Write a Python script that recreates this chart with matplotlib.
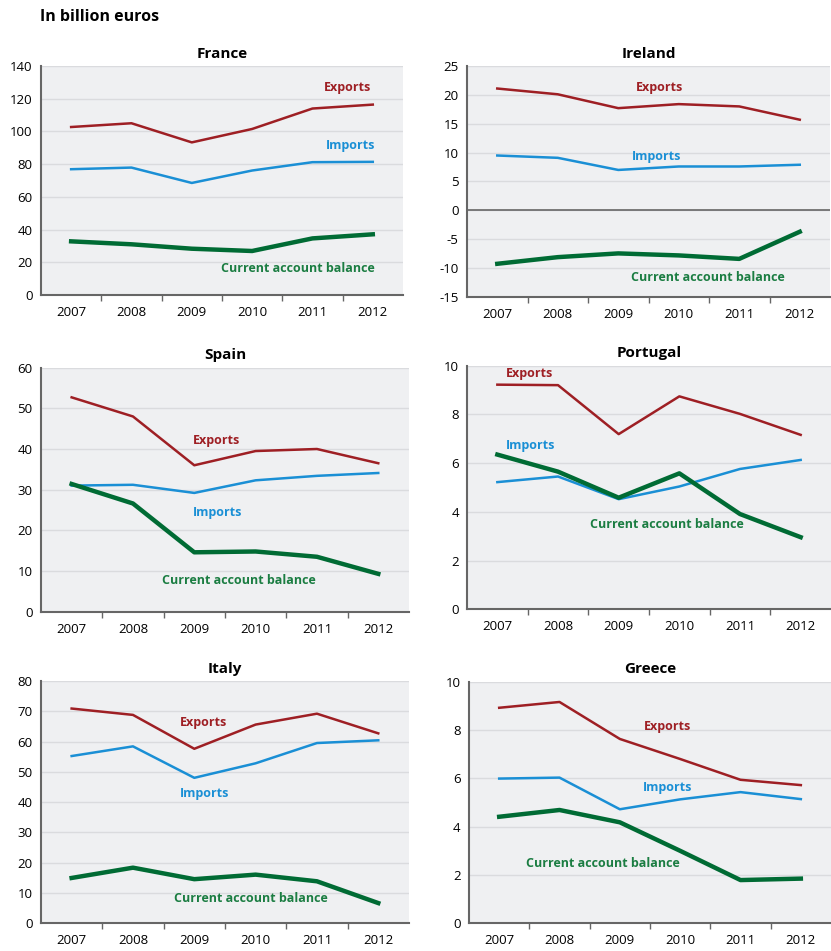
import matplotlib.pyplot as plt
import numpy as np

plt.rcParams['font.family'] = ['Open Sans', 'DejaVu Sans']

years = ['2007', '2008', '2009', '2010', '2011', '2012']

france_exp = [102.7, 105.0, 93.3, 101.5, 114.0, 116.4]
france_imp = [76.9, 77.9, 68.5, 76.1, 81.2, 81.4]
france_cab = [32.8, 31.0, 28.3, 26.9, 34.6, 37.1]

ireland_exp = [21.1, 20.1, 17.7, 18.4, 18.0, 15.7]
ireland_imp = [9.5, 9.1, 7.0, 7.6, 7.6, 7.9]
ireland_cab = [-9.25, -8.1, -7.45, -7.8, -8.4, -3.7]

spain_exp = [52.7, 48.0, 36.0, 39.5, 40.0, 36.5]
spain_imp = [31.0, 31.2, 29.2, 32.3, 33.4, 34.1]
spain_cab = [31.4, 26.6, 14.6, 14.8, 13.5, 9.3]

portugal_exp = [9.22, 9.2, 7.19, 8.74, 8.02, 7.16]
portugal_imp = [5.22, 5.45, 4.52, 5.04, 5.76, 6.13]
portugal_cab = [6.35, 5.65, 4.58, 5.58, 3.91, 2.96]

italy_exp = [70.9, 68.8, 57.6, 65.6, 69.2, 62.7]
italy_imp = [55.2, 58.4, 48.0, 52.8, 59.5, 60.4]
italy_cab = [14.9, 18.3, 14.5, 16.0, 13.8, 6.6]

greece_exp = [8.92, 9.16, 7.63, 6.8, 5.94, 5.72]
greece_imp = [5.99, 6.03, 4.72, 5.13, 5.43, 5.14]
greece_cab = [4.41, 4.69, 4.18, 3.0, 1.79, 1.85]

RED = '#9e1f24'
BLUE = '#1a8fd5'
GREEN = '#006b34'
GREEN_TXT = '#1b7d42'

# name, data, ylim, yticks, axes rect (l, b, w, h), label positions (axes fraction)
panels = [
    ('France', france_exp, france_imp, france_cab, (0, 140), np.arange(0, 141, 20),
     [0.0493, 0.6898, 0.4356, 0.2408], [(0.848, 0.904), (0.854, 0.651), (0.710, 0.114)]),
    ('Ireland', ireland_exp, ireland_imp, ireland_cab, (-15, 25), np.arange(-15, 26, 5),
     [0.5620, 0.6877, 0.4368, 0.2429], [(0.529, 0.906), (0.523, 0.610), (0.664, 0.084)]),
    ('Spain', spain_exp, spain_imp, spain_cab, (0, 60), np.arange(0, 61, 10),
     [0.0493, 0.3568, 0.4428, 0.2566], [(0.477, 0.701), (0.480, 0.406), (0.538, 0.129)]),
    ('Portugal', portugal_exp, portugal_imp, portugal_cab, (0, 10), np.arange(0, 11, 2),
     [0.5620, 0.3593, 0.4380, 0.2562], [(0.171, 0.969), (0.174, 0.672), (0.549, 0.349)]),
    ('Italy', italy_exp, italy_imp, italy_cab, (0, 80), np.arange(0, 81, 10),
     [0.0493, 0.0294, 0.4428, 0.2545], [(0.442, 0.829), (0.445, 0.534), (0.570, 0.100)]),
    ('Greece', greece_exp, greece_imp, greece_cab, (0, 10), np.arange(0, 11, 2),
     [0.5644, 0.0291, 0.4356, 0.2541], [(0.547, 0.814), (0.549, 0.563), (0.369, 0.248)]),
]

fig = plt.figure(figsize=(8.31, 9.51), dpi=100)
fig.text(0.048, 0.982, 'In billion euros', fontsize=11.5, fontweight='bold', va='center', ha='left')

x = np.arange(len(years))
for name, exp, imp, cab, ylim, yticks, rect, lpos in panels:
    ax = fig.add_axes(rect)
    ax.set_facecolor('#eff0f2')
    ax.set_xlim(-0.5, 5.5)
    ax.set_ylim(*ylim)
    ax.set_yticks(yticks)
    ax.set_yticklabels([str(v) for v in yticks])
    for v in yticks:
        ax.axhline(v, color='#dadbde', lw=1, zorder=1)
    if ylim[0] < 0:
        ax.axhline(0, color='#666666', lw=1.2, zorder=2)
    ax.plot(x, exp, color=RED, lw=1.8, zorder=3)
    ax.plot(x, imp, color=BLUE, lw=1.8, zorder=3)
    ax.plot(x, cab, color=GREEN, lw=3.2, zorder=4)
    ax.set_xticks(x)
    ax.set_xticklabels(years)
    ax.set_xticks(np.arange(0.5, 5.0, 1), minor=True)
    ax.tick_params(axis='x', which='major', length=0, pad=8, labelsize=9.5)
    ax.tick_params(axis='x', which='minor', length=4, color='#666666', width=1)
    ax.tick_params(axis='y', length=0, pad=6, labelsize=9.5)
    for s in ['top', 'right']:
        ax.spines[s].set_visible(False)
    for s in ['left', 'bottom']:
        ax.spines[s].set_color('#666666')
        ax.spines[s].set_linewidth(1.5)
    ax.set_title(name, fontsize=11, fontweight='bold', pad=6)
    ax.text(*lpos[0], 'Exports', transform=ax.transAxes, color=RED, fontsize=9,
            fontweight='bold', ha='center', va='center')
    ax.text(*lpos[1], 'Imports', transform=ax.transAxes, color=BLUE, fontsize=9,
            fontweight='bold', ha='center', va='center')
    ax.text(*lpos[2], 'Current account balance', transform=ax.transAxes, color=GREEN_TXT,
            fontsize=9, fontweight='bold', ha='center', va='center')

fig.savefig('out.png', dpi=100)
